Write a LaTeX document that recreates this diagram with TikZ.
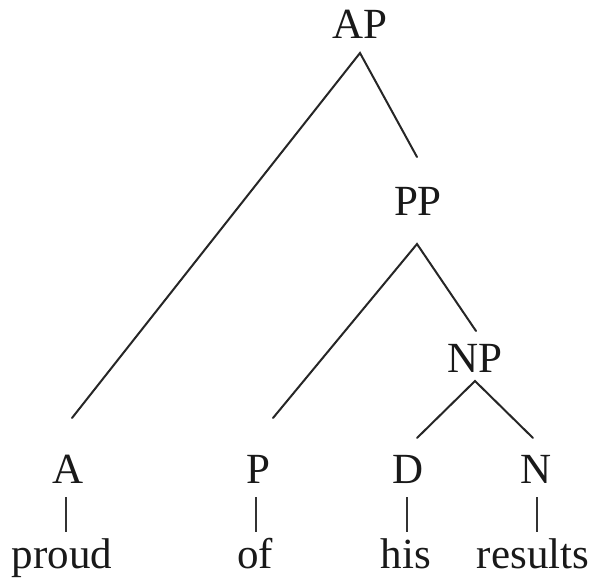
\documentclass[tikz,border=0pt]{standalone}
\usepackage{fontspec}
\setmainfont{Liberation Serif}
\begin{document}
\begin{tikzpicture}[x=1pt,y=-1pt,
  lbl/.style={inner sep=0pt,anchor=base,font=\fontsize{43}{50}\selectfont,text=black!90},
  branch/.style={line width=2pt,draw=black!85,line cap=round},
  link/.style={line width=1.5pt,draw=black!80}]
\useasboundingbox (0,0) rectangle (598,582);
% category labels
\node[lbl] (AP) at (360,38) {AP};
\node[lbl] (PP) at (418,215) {PP};
\node[lbl] (NP) at (475,372) {NP};
\node[lbl] (A) at (68,483) {A};
\node[lbl] (P) at (258,483) {P};
\node[lbl] (D) at (408,483) {D};
\node[lbl] (N) at (536,483) {N};
% words
\node[lbl] (proud) at (62,568) {proud};
\node[lbl] (of) at (255,568) {of};
\node[lbl] (his) at (406,568) {his};
\node[lbl] (results) at (533,568) {results};
% branch end points
\coordinate (APfoot) at (360,53);
\coordinate (PPhead) at (417,157);
\coordinate (PPfoot) at (417,244);
\coordinate (NPhead) at (476,331);
\coordinate (NPfoot) at (475,381);
\coordinate (Ahead) at (72,418);
\coordinate (Phead) at (273,418);
\coordinate (Dhead) at (417,438);
\coordinate (Nhead) at (533,438);
% tree branches
\draw[branch] (Ahead) -- (APfoot) -- (PPhead);
\draw[branch] (Phead) -- (PPfoot) -- (NPhead);
\draw[branch] (Dhead) -- (NPfoot) -- (Nhead);
% lexical links
\coordinate (Alink) at (66,497);  \coordinate (Aword) at (66,532);
\coordinate (Plink) at (256,497); \coordinate (Pword) at (256,532);
\coordinate (Dlink) at (407,497); \coordinate (Dword) at (407,532);
\coordinate (Nlink) at (537,497); \coordinate (Nword) at (537,532);
\draw[link] (Alink) -- (Aword);
\draw[link] (Plink) -- (Pword);
\draw[link] (Dlink) -- (Dword);
\draw[link] (Nlink) -- (Nword);
\end{tikzpicture}
\end{document}
